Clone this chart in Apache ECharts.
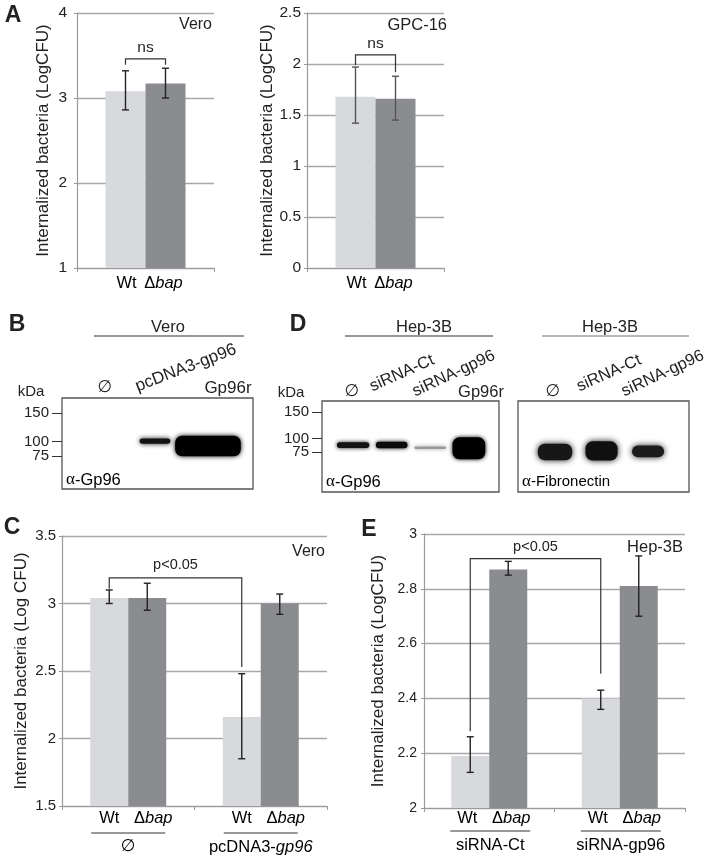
<!DOCTYPE html>
<html>
<head>
<meta charset="utf-8">
<script src="https://cdn.jsdelivr.net/npm/echarts@6/dist/echarts.min.js"></script>
<style>
html,body{margin:0;padding:0;background:#fff;}
#c{width:711px;height:863px;}
</style>
</head>
<body>
<div id="c"></div>
<script>
// ---------------- DATA ----------------
// Panel A (left: Vero, right: GPC-16)
const aSeries = ['Wt', 'Δbap'];
const aVeroCat = ['Vero'];
const aVeroWt = [3.08], aVeroWtLow = [2.86], aVeroWtHigh = [3.32];
const aVeroBap = [3.17], aVeroBapLow = [3.00], aVeroBapHigh = [3.35];
const aVeroTicks = [1, 2, 3, 4];
const aGpcCat = ['GPC-16'];
const aGpcWt = [1.68], aGpcWtLow = [1.42], aGpcWtHigh = [1.97];
const aGpcBap = [1.66], aGpcBapLow = [1.45], aGpcBapHigh = [1.88];
const aGpcTicks = [0, 0.5, 1, 1.5, 2, 2.5];

// Panel C (Vero)
const cGroups = ['∅', 'pcDNA3-gp96'];
const cWt = [3.04, 2.16], cWtLow = [3.00, 1.85], cWtHigh = [3.10, 2.48];
const cBap = [3.04, 3.00], cBapLow = [2.95, 2.92], cBapHigh = [3.15, 3.07];
const cTicks = [1.5, 2, 2.5, 3, 3.5];

// Panel E (Hep-3B)
const eGroups = ['siRNA-Ct', 'siRNA-gp96'];
const eWt = [2.19, 2.40], eWtLow = [2.13, 2.36], eWtHigh = [2.26, 2.43];
const eBap = [2.87, 2.81], eBapLow = [2.85, 2.70], eBapHigh = [2.90, 2.92];
const eTicks = [2, 2.2, 2.4, 2.6, 2.8, 3];

// Significance brackets: [category, series] endpoints, top, leg ends, text
const aVeroBracket = {a: [0, 0], b: [0, 1], top: 3.46, legA: 3.39, legB: 3.39, text: 'ns'};
const aGpcBracket = {a: [0, 0], b: [0, 1], top: 2.09, legA: 1.99, legB: 1.92, text: 'ns'};
const cBracket = {a: [0, 0], b: [1, 0], top: 3.19, legA: 3.11, legB: 2.53, text: 'p<0.05'};
const eBracket = {a: [0, 0], b: [1, 0], top: 2.91, legA: 2.28, legB: 2.49, text: 'p<0.05'};

// Western blots (lane index, band centre kDa, band spread kDa, band width in lanes, intensity)
const kdaMarkers = [75, 100, 150];
const bLanes = ['∅', 'pcDNA3-gp96', 'Gp96r'];
const bBandLane = [1, 2], bBandKda = [101, 92.5], bBandSpread = [9, 36], bBandWidth = [0.58, 1.24], bBandInt = [0.92, 1];
const d1Lanes = ['∅', 'siRNA-Ct', 'siRNA-gp96', 'Gp96r'];
const d1BandLane = [0, 1, 2, 3], d1BandKda = [88, 88, 83, 82], d1BandSpread = [11, 12, 5, 41], d1BandWidth = [0.84, 0.82, 0.82, 0.85], d1BandInt = [0.92, 0.95, 0.35, 1];
const d2Lanes = ['∅', 'siRNA-Ct', 'siRNA-gp96'];
const d2BandLane = [0, 1, 2], d2BandKda = [75, 77, 76], d2BandSpread = [31, 36, 22], d2BandWidth = [0.74, 0.69, 0.69], d2BandInt = [0.9, 0.93, 0.88];

// ---------------- STYLE ----------------
const FONT = '"Liberation Sans", Arial, Helvetica, sans-serif';
const TXT = '#222';
const C_WT = '#d8d9dd', C_BAP = '#8b8c90';
const GRIDC = '#a8a8a8', AXC = '#9a9a9a';
const RICH = {
  n: {fontFamily: FONT, fontSize: 16.5, color: TXT},
  i: {fontFamily: FONT, fontSize: 16.5, color: TXT, fontStyle: 'italic'},
  o: {fontFamily: '"DejaVu Sans", sans-serif', fontSize: 17, color: TXT}
};
const fmtLabel = s => s === 'Δbap' ? '{n|Δ}{i|bap}' : s === '∅' ? '{o|∅}' : s === 'pcDNA3-gp96' ? '{n|pcDNA3-}{i|gp96}' : '{n|' + s + '}';

function tickAxis(t) {
  return {min: t[0], max: t[t.length - 1], interval: Math.round((t[1] - t[0]) * 1e6) / 1e6};
}
function yBar(gi, ticks, name, gap, margin, fs) {
  return Object.assign({
    type: 'value', gridIndex: gi, name: name, nameLocation: 'middle', nameRotate: 90, nameGap: gap,
    nameTextStyle: {fontSize: 17, color: TXT, fontFamily: FONT},
    axisLine: {show: true, onZero: false, lineStyle: {color: AXC, width: 1.2}},
    axisTick: {show: true, length: 3, lineStyle: {color: AXC}},
    axisLabel: {margin: margin, fontSize: fs, color: TXT, fontFamily: FONT},
    splitLine: {show: true, lineStyle: {color: GRIDC, width: 1.3}}
  }, tickAxis(ticks));
}
function xBar(gi, cats) {
  return {type: 'category', gridIndex: gi, data: cats, boundaryGap: true,
    axisLine: {show: true, onZero: false, lineStyle: {color: AXC, width: 1.2}},
    axisTick: {show: true, length: 4, lineStyle: {color: AXC}},
    axisLabel: {show: false}};
}
function bar(ai, name, data, color, bw) {
  return {type: 'bar', name: name, xAxisIndex: ai, yAxisIndex: ai, data: data, barWidth: bw, barGap: '0%',
    itemStyle: {color: color}, silent: true};
}
function errBars(ai, lo0, hi0, lo1, hi1, bw, color) {
  const data = [];
  lo0.forEach((v, i) => data.push([i, v, hi0[i], 0]));
  lo1.forEach((v, i) => data.push([i, v, hi1[i], 1]));
  return {type: 'custom', xAxisIndex: ai, yAxisIndex: ai, data: data, encode: {x: 0, y: [1, 2]}, z: 5, silent: true,
    renderItem: function (params, api) {
      const cat = api.value(0), s = api.value(3);
      const lo = api.coord([cat, api.value(1)]), hi = api.coord([cat, api.value(2)]);
      const x = lo[0] + (s - 0.5) * bw, cap = 3.5;
      const st = {stroke: color, lineWidth: 1.4};
      return {type: 'group', children: [
        {type: 'line', shape: {x1: x, y1: hi[1], x2: x, y2: lo[1]}, style: st},
        {type: 'line', shape: {x1: x - cap, y1: hi[1], x2: x + cap, y2: hi[1]}, style: st},
        {type: 'line', shape: {x1: x - cap, y1: lo[1], x2: x + cap, y2: lo[1]}, style: st}
      ]};
    }};
}
function bracket(ai, br, bw, fs, dy) {
  return {type: 'custom', xAxisIndex: ai, yAxisIndex: ai, data: [[br.a[0], br.top, br.b[0], br.legA, br.legB]],
    encode: {x: [0, 2], y: [1, 3, 4]}, z: 6, silent: true,
    renderItem: function (params, api) {
      const pa = api.coord([api.value(0), api.value(1)]), pb = api.coord([api.value(2), api.value(1)]);
      const la = api.coord([api.value(0), api.value(3)]), lb = api.coord([api.value(2), api.value(4)]);
      const xa = pa[0] + (br.a[1] - 0.5) * bw, xb = pb[0] + (br.b[1] - 0.5) * bw;
      return {type: 'group', children: [
        {type: 'polyline', shape: {points: [[xa, la[1]], [xa, pa[1]], [xb, pb[1]], [xb, lb[1]]]},
          style: {stroke: '#333', lineWidth: 1.2, fill: null}},
        {type: 'text', x: (xa + xb) / 2, y: pa[1] - dy,
          style: {text: br.text, fill: TXT, fontFamily: FONT, fontSize: fs, align: 'center', verticalAlign: 'bottom'}}
      ]};
    }};
}
function xLabels(ai, groups, yMin, bw, o) {
  return {type: 'custom', xAxisIndex: ai, yAxisIndex: ai, data: groups.map((g, i) => [i, yMin]),
    encode: {x: 0, y: 1}, z: 6, silent: true, clip: false,
    renderItem: function (params, api) {
      const i = api.value(0);
      const p = api.coord([i, api.value(1)]);
      const cx = p[0], base = p[1];
      const ch = [
        {type: 'text', x: cx - bw / 2 + o.dxWt, y: base + o.dy1, style: {text: fmtLabel(aSeries[0]), rich: RICH, align: 'center', verticalAlign: 'middle'}},
        {type: 'text', x: cx + bw / 2 + o.dxBap, y: base + o.dy1, style: {text: fmtLabel(aSeries[1]), rich: RICH, align: 'center', verticalAlign: 'middle'}}
      ];
      if (o.group) {
        ch.push({type: 'line', shape: {x1: cx - o.ul + o.ulShift, y1: base + o.dy2, x2: cx + o.ul + o.ulShift, y2: base + o.dy2}, style: {stroke: '#333', lineWidth: 1}});
        ch.push({type: 'text', x: cx + o.ulShift, y: base + o.dy3, style: {text: fmtLabel(groups[i]), rich: RICH, align: 'center', verticalAlign: 'middle'}});
      }
      return {type: 'group', children: ch};
    }};
}
function bands(ai, lanes, kda, spread, widths, ints, blur) {
  return {type: 'custom', xAxisIndex: ai, yAxisIndex: ai, silent: true, z: 3,
    data: lanes.map((l, i) => [l, kda[i], spread[i], widths[i], ints[i]]), encode: {x: 0, y: 1},
    renderItem: function (params, api) {
      const l = api.value(0), k = api.value(1), sp = api.value(2), w = api.value(3), it = api.value(4);
      const top = api.coord([l, k + sp / 2]), bot = api.coord([l, k - sp / 2]);
      const wpx = api.size([w, 0])[0];
      const h = bot[1] - top[1];
      const c = Math.round(235 * (1 - it));
      const col = 'rgb(' + c + ',' + c + ',' + c + ')';
      return {type: 'rect', shape: {x: top[0] - wpx / 2, y: top[1], width: wpx, height: h, r: Math.min(h / 2, 7)},
        style: {fill: col, shadowBlur: blur, shadowColor: col}};
    }};
}
// kDa marker labels drawn at the marker positions of the blot's own kDa scale
function kdaLabels(ai, xMin) {
  return {type: 'custom', xAxisIndex: ai, yAxisIndex: ai, silent: true, clip: false, z: 4,
    data: kdaMarkers.map(k => [xMin, k]), encode: {x: 0, y: 1},
    renderItem: function (params, api) {
      const p = api.coord([api.value(0), api.value(1)]);
      return {type: 'text', x: p[0] - 13, y: p[1],
        style: {text: String(api.value(1)), fill: TXT, fontFamily: FONT, fontSize: 15, align: 'right', verticalAlign: 'middle'}};
    }};
}
function blotY(gi, min, max, showTicks) {
  return {type: 'value', gridIndex: gi, min: min, max: max, show: showTicks, position: 'left',
    axisLine: {show: false, onZero: false}, splitLine: {show: false},
    axisTick: {show: true, inside: false, length: 10, customValues: kdaMarkers, lineStyle: {color: '#333', width: 1}},
    axisLabel: {show: false}};
}
function blotX(gi, min, max) {
  return {type: 'value', gridIndex: gi, min: min, max: max, show: false, splitLine: {show: false}, axisLine: {onZero: false}};
}

// --------------- GRAPHICS (text annotations) ---------------
function txt(x, y, text, opt) {
  opt = opt || {};
  return {type: 'text', x: x, y: y, rotation: (opt.rot || 0) * Math.PI / 180, silent: true,
    style: {text: text, rich: RICH, fill: TXT, fontFamily: opt.family || FONT, fontSize: opt.size || 16.5,
      fontWeight: opt.weight || 'normal', align: opt.align || 'center', verticalAlign: opt.va || 'middle'}};
}
function hline(x1, x2, y, color) {
  return {type: 'line', silent: true, shape: {x1: x1, y1: y, x2: x2, y2: y}, style: {stroke: color || '#333', lineWidth: 1.2}};
}
function alphaTxt(x, y, label, fs) {
  return {type: 'text', x: x, y: y, silent: true,
    style: {text: '{a|α}{t|-' + label + '}', rich: {a: {fontFamily: '"Liberation Serif", serif', fontSize: 17, color: TXT}, t: {fontFamily: FONT, fontSize: fs, color: TXT}}, align: 'left', verticalAlign: 'middle'}};
}

const graphics = [
  txt(13, 16, 'A', {size: 23, weight: 'bold'}),
  txt(17, 325, 'B', {size: 23, weight: 'bold'}),
  txt(12, 528, 'C', {size: 23, weight: 'bold'}),
  txt(298, 325, 'D', {size: 23, weight: 'bold'}),
  txt(369, 530, 'E', {size: 23, weight: 'bold'}),
  txt(212, 25, 'Vero', {align: 'right', size: 16}),
  txt(447, 25, 'GPC-16', {align: 'right', size: 16.5}),
  txt(325, 552, 'Vero', {align: 'right', size: 16}),
  txt(683, 547, 'Hep-3B', {align: 'right', size: 16.5}),
  // blot headers
  txt(168, 327, 'Vero', {size: 16.5}), hline(94, 244, 336),
  txt(424, 327, 'Hep-3B', {size: 16.5}), hline(345, 493, 336),
  txt(610, 327, 'Hep-3B', {size: 16.5}), hline(542, 689, 336, '#777'),
  txt(31, 392, 'kDa', {size: 15}), txt(291, 393, 'kDa', {size: 15}),
  // B lanes
  txt(105, 388, '{o|' + bLanes[0] + '}'),
  txt(139, 395, bLanes[1], {align: 'left', va: 'bottom', rot: 21, size: 17}),
  txt(228, 388, bLanes[2], {size: 17}),
  // D1 lanes
  txt(352, 392, '{o|' + d1Lanes[0] + '}'),
  txt(374, 395, d1Lanes[1], {align: 'left', va: 'bottom', rot: 24, size: 16.5}),
  txt(417, 400, d1Lanes[2], {align: 'left', va: 'bottom', rot: 25, size: 16.5}),
  txt(481, 392, d1Lanes[3], {size: 16.5}),
  // D2 lanes
  txt(553, 392, '{o|' + d2Lanes[0] + '}'),
  txt(581, 395, d2Lanes[1], {align: 'left', va: 'bottom', rot: 24, size: 16.5}),
  txt(626, 400, d2Lanes[2], {align: 'left', va: 'bottom', rot: 25, size: 16.5}),
  alphaTxt(66, 480, 'Gp96', 16.5),
  alphaTxt(326, 482, 'Gp96', 16.5),
  alphaTxt(522, 482, 'Fibronectin', 15)
];

// --------------- OPTION ---------------
const BW_A = 40, BW_C = 38, BW_E = 38;
const B_X = [-0.755, 2.85], D1_X = [-0.805, 3.78], D2_X = [-0.796, 2.88];
const option = {
  animation: false,
  textStyle: {fontFamily: FONT},
  grid: [
    {left: 77, top: 13, width: 137, height: 255},   // A left
    {left: 307, top: 13, width: 137, height: 255},  // A right
    {left: 62, top: 536, width: 265, height: 270},  // C
    {left: 424, top: 534, width: 261, height: 274}, // E
    {left: 62, top: 398, width: 191, height: 91, show: true, borderColor: '#555', borderWidth: 1.3, backgroundColor: '#fff'},  // B blot
    {left: 322, top: 401, width: 177, height: 91, show: true, borderColor: '#555', borderWidth: 1.3, backgroundColor: '#fff'}, // D1 blot
    {left: 518, top: 401, width: 171, height: 91, show: true, borderColor: '#555', borderWidth: 1.3, backgroundColor: '#fff'}  // D2 blot
  ],
  xAxis: [
    xBar(0, aVeroCat), xBar(1, aGpcCat), xBar(2, cGroups), xBar(3, eGroups),
    blotX(4, B_X[0], B_X[1]), blotX(5, D1_X[0], D1_X[1]), blotX(6, D2_X[0], D2_X[1])
  ],
  yAxis: [
    yBar(0, aVeroTicks, 'Internalized bacteria (LogCFU)', 25, 10, 15.5),
    yBar(1, aGpcTicks, 'Internalized bacteria (LogCFU)', 30, 6, 15.5),
    yBar(2, cTicks, 'Internalized bacteria (Log CFU)', 32, 6, 15),
    yBar(3, eTicks, 'Internalized bacteria (LogCFU)', 37, 7, 14),
    blotY(4, 17.4, 176.2, true), blotY(5, 0, 170.6, true), blotY(6, 0, 170.6, false)
  ],
  graphic: graphics,
  series: [
    bar(0, aSeries[0], aVeroWt, C_WT, BW_A), bar(0, aSeries[1], aVeroBap, C_BAP, BW_A),
    bar(1, aSeries[0], aGpcWt, C_WT, BW_A), bar(1, aSeries[1], aGpcBap, C_BAP, BW_A),
    bar(2, aSeries[0], cWt, C_WT, BW_C), bar(2, aSeries[1], cBap, C_BAP, BW_C),
    bar(3, aSeries[0], eWt, C_WT, BW_E), bar(3, aSeries[1], eBap, C_BAP, BW_E),
    errBars(0, aVeroWtLow, aVeroWtHigh, aVeroBapLow, aVeroBapHigh, BW_A, '#222'),
    errBars(1, aGpcWtLow, aGpcWtHigh, aGpcBapLow, aGpcBapHigh, BW_A, '#555'),
    errBars(2, cWtLow, cWtHigh, cBapLow, cBapHigh, BW_C, '#222'),
    errBars(3, eWtLow, eWtHigh, eBapLow, eBapHigh, BW_E, '#222'),
    bracket(0, aVeroBracket, BW_A, 15.5, 3),
    bracket(1, aGpcBracket, BW_A, 15.5, 3),
    bracket(2, cBracket, BW_C, 14.5, 5),
    bracket(3, eBracket, BW_E, 14.5, 4),
    xLabels(0, aVeroCat, aVeroTicks[0], BW_A, {dy1: 15, dxWt: 1, dxBap: -2}),
    xLabels(1, aGpcCat, aGpcTicks[0], BW_A, {dy1: 15, dxWt: 1, dxBap: -2}),
    xLabels(2, cGroups, cTicks[0], BW_C, {dy1: 12, dxWt: 0, dxBap: 6, group: true, dy2: 27, ul: 37, ulShift: 0, dy3: 41}),
    xLabels(3, eGroups, eTicks[0], BW_E, {dy1: 10, dxWt: -3, dxBap: 3, group: true, dy2: 23, ul: 40, ulShift: 1, dy3: 37}),
    bands(4, bBandLane, bBandKda, bBandSpread, bBandWidth, bBandInt, 5),
    bands(5, d1BandLane, d1BandKda, d1BandSpread, d1BandWidth, d1BandInt, 4),
    bands(6, d2BandLane, d2BandKda, d2BandSpread, d2BandWidth, d2BandInt, 6),
    kdaLabels(4, B_X[0]),
    kdaLabels(5, D1_X[0])
  ]
};
const chart = echarts.init(document.getElementById('c'), null, {renderer: 'canvas'});
chart.setOption(option);
</script>
</body>
</html>
